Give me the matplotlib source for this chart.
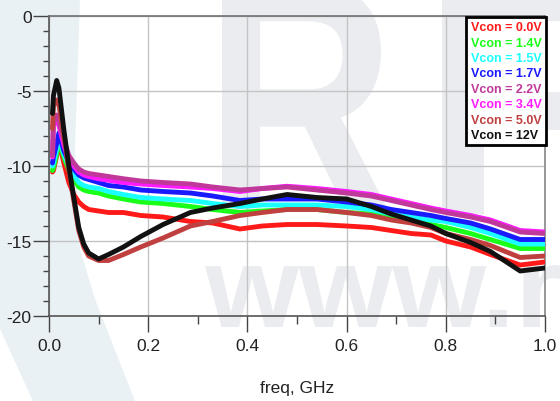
import matplotlib
matplotlib.use("Agg")
import matplotlib.pyplot as plt
from matplotlib.patches import Polygon, PathPatch
from matplotlib.textpath import TextPath
from matplotlib.font_manager import FontProperties
from matplotlib.transforms import Affine2D, IdentityTransform
import numpy as np

plt.rcParams['font.family'] = ['Liberation Sans', 'DejaVu Sans']

freq = [0.007, 0.009, 0.0155, 0.020, 0.030, 0.040, 0.050, 0.060, 0.070, 0.080,
        0.100, 0.120, 0.150, 0.185, 0.230, 0.285, 0.330, 0.385, 0.430, 0.480,
        0.540, 0.600, 0.650, 0.690, 0.730, 0.770, 0.800, 0.850, 0.890, 0.950,
        1.000]

v0_0 = [-10.4, -10.3, -9.3, -8.4, -9.8, -11.1, -11.9, -12.4, -12.7, -12.9,
        -13.0, -13.1, -13.1, -13.3, -13.4, -13.7, -13.8, -14.2, -14.0, -13.9,
        -13.9, -14.0, -14.1, -14.3, -14.5, -14.6, -15.0, -15.4, -15.9, -16.6,
        -16.4]
v1_4 = [-10.3, -10.1, -9.2, -8.3, -9.4, -10.3, -10.9, -11.4, -11.6, -11.7,
        -11.8, -12.0, -12.2, -12.4, -12.5, -12.7, -12.9, -13.1, -13.0, -12.9,
        -12.9, -13.1, -13.2, -13.4, -13.6, -13.9, -14.1, -14.5, -14.9, -15.5,
        -15.5]
v1_5 = [-10.0, -9.8, -8.9, -8.0, -9.2, -10.0, -10.6, -11.1, -11.3, -11.4,
        -11.5, -11.7, -11.9, -12.1, -12.2, -12.3, -12.5, -12.7, -12.6, -12.6,
        -12.6, -12.7, -12.9, -13.2, -13.4, -13.6, -13.7, -14.1, -14.5, -15.2,
        -15.2]
v1_7 = [-9.8, -9.4, -8.5, -7.8, -9.0, -9.7, -10.2, -10.6, -10.8, -10.9,
        -11.1, -11.3, -11.4, -11.6, -11.7, -11.8, -12.0, -12.3, -12.2, -12.2,
        -12.2, -12.4, -12.6, -12.9, -13.1, -13.3, -13.5, -13.8, -14.2, -14.9,
        -14.9]
v2_2 = [-9.3, -7.0, -6.6, -7.0, -8.3, -9.3, -9.8, -10.2, -10.4, -10.5,
        -10.6, -10.7, -10.85, -11.0, -11.1, -11.2, -11.4, -11.6, -11.5, -11.4,
        -11.6, -11.8, -12.0, -12.3, -12.6, -12.9, -13.1, -13.4, -13.7, -14.4,
        -14.5]
v3_4 = [-9.4, -7.3, -6.9, -7.3, -8.6, -9.6, -10.0, -10.4, -10.6, -10.7,
        -10.85, -10.95, -11.1, -11.2, -11.3, -11.4, -11.5, -11.7, -11.5, -11.35,
        -11.5, -11.7, -11.9, -12.2, -12.5, -12.8, -13.0, -13.3, -13.6, -14.3,
        -14.4]
v5_0 = [-7.5, -6.0, -5.6, -5.9, -8.0, -10.3, -12.3, -14.3, -15.4, -16.0,
        -16.3, -16.3, -15.9, -15.4, -14.8, -14.0, -13.7, -13.3, -13.1, -12.9,
        -12.9, -13.1, -13.3, -13.6, -13.8, -14.1, -14.5, -14.9, -15.3, -16.1,
        -16.0]
v12 = [-6.5, -5.3, -4.3, -4.8, -7.6, -10.0, -12.1, -14.1, -15.2, -15.8,
       -16.2, -15.9, -15.4, -14.7, -13.9, -13.1, -12.8, -12.5, -12.2, -11.9,
       -12.1, -12.2, -12.7, -13.2, -13.6, -14.0, -14.5, -15.1, -15.7, -17.0,
       -16.8]

labels = ["Vcon = 0.0V", "Vcon = 1.4V", "Vcon = 1.5V", "Vcon = 1.7V",
          "Vcon = 2.2V", "Vcon = 3.4V", "Vcon = 5.0V", "Vcon = 12V"]
series = [v0_0, v1_4, v1_5, v1_7, v2_2, v3_4, v5_0, v12]
colors = ["#ff1a1a", "#1aff1a", "#1affff", "#1a1aff", "#c0399a", "#ff1aff",
          "#c04040", "#111111"]
zorders = [3, 4, 5, 6, 8, 7, 9, 10]

W, H = 560, 402
fig = plt.figure(figsize=(W / 100, H / 100), dpi=100)
fig.patch.set_facecolor("white")

# ---- faint watermark background ----
band_px = [(0, 0), (80, 0), (75, 150), (80, 250), (95, 300), (135, 402),
           (33, 402), (0, 330)]
band = Polygon([(x / W, 1 - y / H) for x, y in band_px], closed=True,
               transform=fig.transFigure, facecolor="#e9f1f5",
               edgecolor="none", zorder=-5)
fig.add_artist(band)

wm_font = FontProperties(family="Liberation Sans", weight="bold")


def watermark(text, x0, x1, ytop, ybot, color="#ebecf0"):
    tp = TextPath((0, 0), text, size=100, prop=wm_font)
    ext = tp.get_extents()
    sx = (x1 - x0) / ext.width
    sy = (ybot - ytop) / ext.height
    tr = Affine2D().translate(-ext.x0, -ext.y0).scale(sx, sy).translate(x0, H - ybot)
    p = PathPatch(tr.transform_path(tp), transform=IdentityTransform(),
                  facecolor=color, edgecolor="none", zorder=-4)
    fig.add_artist(p)


watermark("R", 222, 390, -15, 215)
watermark("F", 442, 590, -15, 215)
watermark("www.r", 205, 560, 266, 328)

# ---- main axes ----
ax = fig.add_axes([49 / W, 1 - 317 / H, 496 / W, 300 / H])
ax.patch.set_alpha(0)

for y, c, lab, z in zip(series, colors, labels, zorders):
    ax.plot(freq, y, color=c, lw=3.5, label=lab, zorder=z,
            solid_capstyle="round", solid_joinstyle="round")

ax.set_xlim(0, 1.0)
ax.set_ylim(-20, 0)
ax.set_xticks(np.arange(0, 1.01, 0.2))
ax.set_xticklabels(["0.0", "0.2", "0.4", "0.6", "0.8", "1.0"])
ax.set_xticks(np.arange(0.1, 1.0, 0.2), minor=True)
ax.set_yticks([-20, -15, -10, -5, 0])
ax.set_yticklabels(["-20", "-15", "-10", "-5", "0"])
ax.set_yticks(np.arange(-19, 0, 1), minor=True)
ax.grid(True, which="major", color="#c4c4c4", lw=1.0, zorder=1)
ax.tick_params(which="major", direction="out", length=11.5, width=1.0,
               color="#444444", labelsize=12.5, labelcolor="#222222")
ax.tick_params(axis="x", which="major", pad=4.5)
ax.tick_params(axis="y", which="major", pad=1)
ax.tick_params(which="minor", direction="out", length=4.5, width=1.0,
               color="#444444")
ax.tick_params(axis="x", which="minor", length=5.5)
for s in ax.spines.values():
    s.set_color("#555555")
    s.set_linewidth(1.2)
ax.spines["top"].set_color("#707070")
ax.spines["right"].set_color("#888888")

ax.set_xlabel("freq, GHz", fontsize=12.5, color="#222222", labelpad=19)

leg = ax.legend(loc="upper right", handlelength=0, handletextpad=0,
                labelcolor="linecolor", frameon=True, fancybox=False,
                framealpha=1, edgecolor="black", borderpad=0.35,
                labelspacing=0.27, prop={"weight": "bold", "size": 9},
                bbox_to_anchor=(1.002, 0.9967), borderaxespad=0.0)
leg.get_frame().set_linewidth(2.0)
for h in leg.legend_handles:
    h.set_visible(False)
leg.set_zorder(20)

fig.savefig("out.png", dpi=100)
